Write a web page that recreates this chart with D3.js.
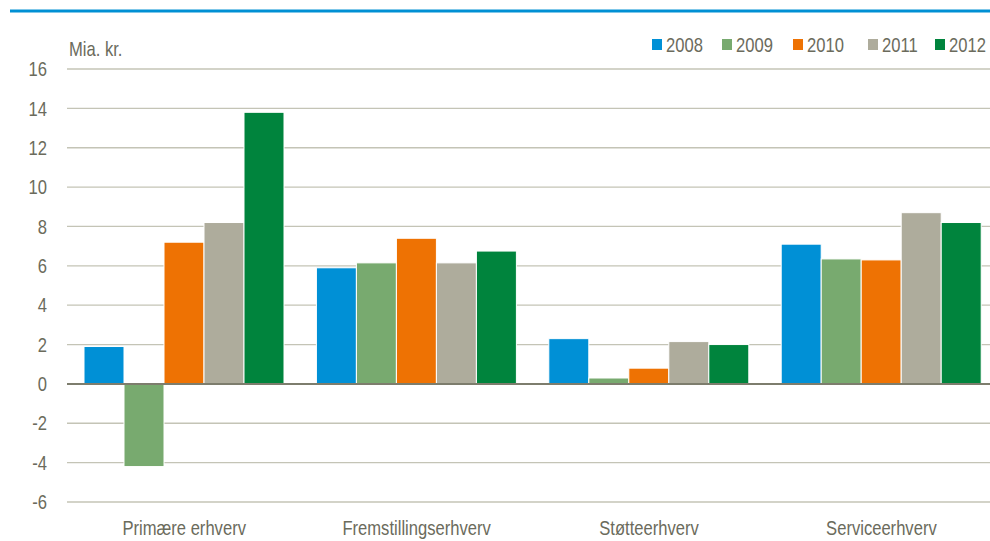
<!DOCTYPE html>
<html>
<head>
<meta charset="utf-8">
<script src="https://cdn.jsdelivr.net/npm/d3@7.9.0/dist/d3.min.js"></script>
<style>
  body { margin: 0; background: #fff; }
  svg text { font-family: "Liberation Sans", Arial, sans-serif; fill: #6b6b5c; font-size: 20px; }
</style>
</head>
<body>
<svg width="990" height="541"></svg>
<script>
// data
const categories = ["Primære erhverv", "Fremstillingserhverv", "Støtteerhverv", "Serviceerhverv"];
const years = ["2008", "2009", "2010", "2011", "2012"];
const v2008 = [1.9, 5.9, 2.3, 7.1];
const v2009 = [-4.2, 6.15, 0.3, 6.35];
const v2010 = [7.2, 7.4, 0.8, 6.3];
const v2011 = [8.2, 6.15, 2.15, 8.7];
const v2012 = [13.8, 6.75, 2.0, 8.2];
const yTicks = [-6, -4, -2, 0, 2, 4, 6, 8, 10, 12, 14, 16];
const colors = ["#0090d6", "#78aa6f", "#ee7203", "#aeac9c", "#00843d"];

const series = [v2008, v2009, v2010, v2011, v2012];
const narrow = 0.83; // the original font is a narrow face, squeeze it

let svg = d3.select("svg");

// text helper: positions a group and squeezes it horizontally
function label(sel, x, y) {
  return sel.attr("transform", (d, i) => `translate(${x(d, i)},${y(d, i)}) scale(${narrow},1)`);
}

// blue rule on top
svg.append("line")
  .attr("x1", 10).attr("x2", 990)
  .attr("y1", 11).attr("y2", 11)
  .attr("stroke", "#0090d4").attr("stroke-width", 3);

let y = d3.scaleLinear().domain([-6, 16]).range([502, 69]);
let x0 = d3.scaleBand().domain(categories).range([68, 68 + 4 * 232.4]);
let x1 = d3.scaleBand().domain(years).range([16, 216]);

// gridlines
svg.append("g")
  .selectAll("line")
  .data(yTicks.filter(d => d !== 0))
  .join("line")
  .attr("x1", 67).attr("x2", 998)
  .attr("y1", d => y(d)).attr("y2", d => y(d))
  .attr("stroke", "#c4c4b6").attr("stroke-width", 1.3);

// tick labels
label(svg.append("g")
  .selectAll("text")
  .data(yTicks)
  .join("text"), () => 47, d => y(d))
  .attr("dy", "0.36em")
  .attr("text-anchor", "end")
  .text(d => d);

// bars
let groups = svg.append("g")
  .selectAll("g")
  .data(categories)
  .join("g")
  .attr("transform", d => `translate(${x0(d)},0)`);

groups.selectAll("rect")
  .data((c, ci) => years.map((yr, si) => ({ year: yr, value: series[si][ci], i: si })))
  .join("rect")
  .attr("x", d => x1(d.year))
  .attr("width", x1.bandwidth())
  .attr("y", d => y(Math.max(0, d.value)))
  .attr("height", d => Math.abs(y(d.value) - y(0)))
  .attr("fill", d => colors[d.i])
  .attr("stroke", "#fff")
  .attr("stroke-width", 1);

// zero line
svg.append("line")
  .attr("x1", 67).attr("x2", 998)
  .attr("y1", y(0)).attr("y2", y(0))
  .attr("stroke", "#7d7d6d").attr("stroke-width", 2);

// category labels
label(svg.append("g")
  .selectAll("text")
  .data(categories)
  .join("text"), d => x0(d) + x0.bandwidth() / 2, () => 535)
  .attr("text-anchor", "middle")
  .text(d => d);

// unit label
label(svg.append("text").datum("Mia. kr."), () => 69, () => 56)
  .text(d => d);

// legend
const legendX = [652, 722, 793, 868, 935];
let legend = svg.append("g")
  .selectAll("g")
  .data(years)
  .join("g")
  .attr("transform", (d, i) => `translate(${legendX[i]},0)`);

legend.append("rect")
  .attr("x", 0).attr("y", 39)
  .attr("width", 10).attr("height", 11)
  .attr("fill", (d, i) => colors[i]);

label(legend.append("text"), () => 14, () => 52)
  .text(d => d);
</script>
</body>
</html>
